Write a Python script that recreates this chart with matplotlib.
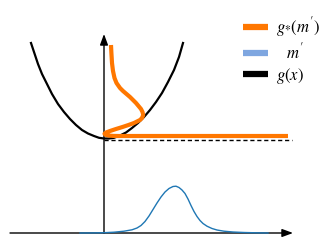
import matplotlib
matplotlib.use("Agg")
import matplotlib.pyplot as plt
from matplotlib.lines import Line2D

plt.rcParams['mathtext.fontset'] = 'stix'
plt.rcParams['font.family'] = ['DejaVu Sans']

# g(x): parabola-like curve (schematic units)
g_x = [-7.3, -7.0, -6.6, -6.2, -5.7, -5.2, -4.6, -4.0, -3.4, -2.8, -2.2, -1.6, -1.0, -0.5,
       0.0, 0.5, 1.0, 1.6, 2.2, 2.8, 3.4, 4.0, 4.6, 5.2, 5.8, 6.4, 7.0, 7.5, 7.9]
g_y = [19.0, 18.1, 16.9, 15.9, 14.9, 13.9, 12.9, 12.1, 11.4, 10.8, 10.3, 9.95, 9.7, 9.52,
       9.45, 9.45, 9.52, 9.75, 10.05, 10.5, 11.0, 11.6, 12.3, 13.1, 14.0, 15.1, 16.3, 17.6, 19.0]

# g_*(m'): pushed-forward density, drawn sideways along the vertical axis
gs_x = [0.70, 0.74, 0.80, 0.90, 1.05, 1.25, 1.60, 1.90, 2.25, 2.60, 2.90, 3.20, 3.45,
        3.70, 3.85, 3.92, 3.80, 3.60, 3.30, 3.00, 2.45, 1.85, 1.20, 0.60, 0.20, 0.05,
        0.15, 0.45, 0.90, 1.40, 18.4]
gs_y = [18.8, 18.0, 17.0, 16.2, 15.5, 15.0, 14.5, 14.2, 13.9, 13.6, 13.3, 13.0, 12.7,
        12.4, 12.1, 11.8, 11.5, 11.3, 11.15, 11.0, 10.8, 10.6, 10.4, 10.2, 10.05, 9.93,
        9.82, 9.75, 9.71, 9.7, 9.7]

# m': density on the horizontal axis
m_x = [-2.4, -1.0, 0.0, 1.0, 2.0, 2.8, 3.3, 3.7, 4.1, 4.5, 4.9, 5.3, 5.7, 6.1, 6.5, 6.9,
       7.2, 7.5, 7.8, 8.1, 8.4, 8.7, 9.0, 9.3, 9.6, 9.9, 10.3, 10.8, 11.3, 12.0, 12.9,
       14.0, 15.2, 16.4]
m_y = [0.0, 0.01, 0.03, 0.08, 0.18, 0.32, 0.5, 0.75, 1.15, 1.7, 2.35, 3.0, 3.6, 4.1,
       4.45, 4.65, 4.68, 4.55, 4.3, 3.95, 3.4, 2.75, 2.15, 1.65, 1.25, 0.95, 0.68, 0.45,
       0.3, 0.18, 0.1, 0.05, 0.02, 0.0]

min_level = 9.3       # dashed line at min g
x_axis_end = 18.9
y_axis_end = 19.9
x_axis_start = -9.4

labels = [r"$g_{*}(m^{\prime})$", r"  $m^{\prime}$", r"$g(x)$"]
colors = ['#ff7700', '#7ea6e0', 'black']

fig = plt.figure(figsize=(3.27, 2.48), dpi=100)
ax = fig.add_axes([0, 0, 1, 1])
ax.set_xlim(-10.4, 22.3)
ax.set_ylim(-1.5, 23.3)
ax.axis('off')

# axes arrows
arrow = dict(arrowstyle='-|>,head_length=0.65,head_width=0.24', color='black', lw=1.0,
             shrinkA=0, shrinkB=0)
ax.annotate('', xy=(x_axis_end, 0), xytext=(x_axis_start, 0), arrowprops=arrow)
ax.annotate('', xy=(0, y_axis_end), xytext=(0, 0), arrowprops=arrow)

ax.plot([0, x_axis_end - 0.1], [min_level, min_level], color='black', lw=1.0,
        linestyle=(0, (3, 2)))
ax.plot(g_x, g_y, color='black', lw=1.6, zorder=3)
ax.plot(gs_x, gs_y, color=colors[0], lw=3.0, zorder=4, solid_capstyle='butt',
        solid_joinstyle='round')
ax.plot(m_x, m_y, color='#1f77b4', lw=1.0, zorder=3)

handles = [Line2D([], [], color=c, lw=4.5, solid_capstyle='butt') for c in colors]
ax.legend(handles, labels, loc='upper left', bbox_to_anchor=(243 / 327, 1 - 15 / 248),
          frameon=False, fontsize=12, handlelength=1.5, handletextpad=0.45,
          labelspacing=0.2, borderpad=0, borderaxespad=0)

fig.savefig('out.png', dpi=100)
